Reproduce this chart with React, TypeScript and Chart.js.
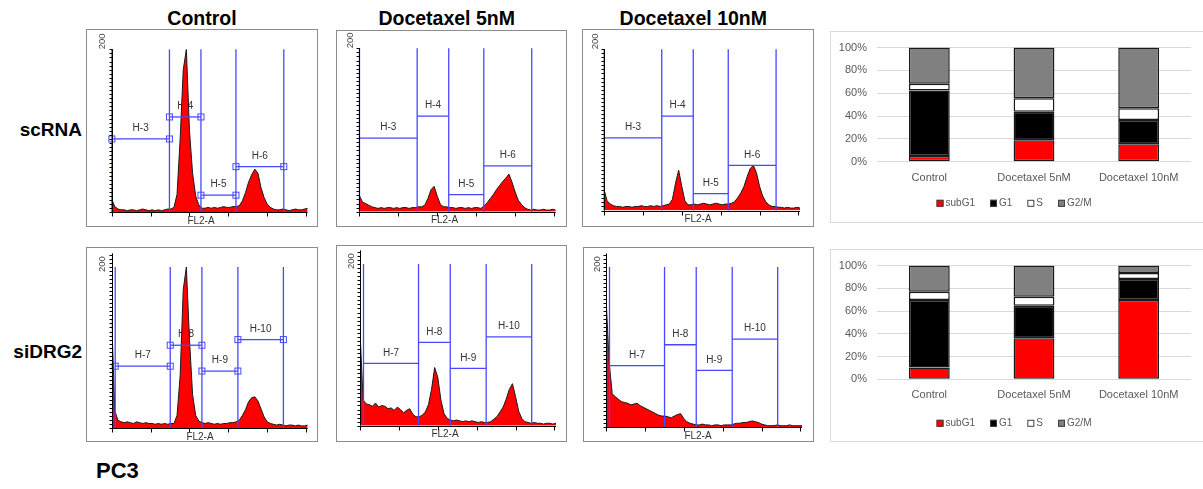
import React, { useEffect, useRef } from 'react';
import { Chart, registerables } from 'chart.js';

Chart.register(...registerables);

const FONT = "'Liberation Sans', Arial, Helvetica, sans-serif";

// ---------- Flow cytometry histograms (FL2-A channel, bin width 16, counts) ----------
const BIN_WIDTH = 16;
const FL2_MAX = 1008;
const FL2_TICKS = [0, 200, 400, 600, 800, 1000];

const SC_CONTROL = [16, 7, 4, 3, 3, 2, 3, 3, 2, 3, 4, 3, 2, 3, 2, 3, 2, 3, 4, 4,
  6, 22, 90, 175, 200, 100, 48, 20, 9, 5, 5, 6, 5, 6, 5, 6, 7, 6, 6, 7, 7,
  8, 14, 24, 37, 46, 53, 48, 30, 18, 10, 6, 4, 3,
  3, 4, 3, 2, 3, 4, 3, 3, 4, 5];
const SC_DOC5 = [20, 12, 10, 8, 6, 5, 4, 5, 4, 5, 5, 4, 5, 4, 5, 5, 4, 5, 5, 6,
  6, 8, 16, 27, 31, 19, 9, 6,
  6, 5, 5, 4, 5, 5, 4, 5, 4, 5, 5, 4,
  7, 11, 16, 21, 27, 32, 37, 41, 46, 36, 24, 14, 9, 5, 3, 2,
  3, 2, 2, 3, 2, 2, 3, 2];
const SC_DOC10 = [26, 12, 8, 6, 5, 5, 4, 5, 5, 4, 5, 5, 6, 5, 5, 6, 5, 6, 5, 6,
  7, 8, 14, 34, 50, 30, 12, 7,
  7, 8, 7, 8, 9, 8, 7, 8, 9, 8, 7, 8, 8,
  9, 11, 16, 22, 30, 42, 52, 56, 47, 30, 18, 11, 7, 5,
  5, 4, 4, 3, 4, 3, 3, 4, 3];
const SI_CONTROL = [135, 22, 10, 8, 7, 8, 7, 6, 8, 7, 6, 7, 6, 6, 5, 6, 5, 6, 5, 6,
  6, 16, 65, 172, 200, 110, 42, 16, 9,
  7, 6, 7, 6, 5, 6, 5, 6, 6, 7, 7,
  8, 10, 16, 23, 33, 38, 39, 34, 24, 14, 8, 6, 5,
  4, 5, 4, 3, 4, 4, 3, 4, 3, 3, 4];
const SI_DOC5 = [116, 32, 27, 26, 24, 28, 23, 25, 24, 21, 22, 19, 23, 20, 16, 19, 21, 14, 11, 11,
  13, 17, 26, 45, 72, 60, 32, 15, 9, 7,
  6, 7, 6, 5, 6, 5, 6, 5, 4, 5,
  4, 4, 5, 8, 11, 17, 23, 33, 45, 52,
  36, 18, 9, 5, 4, 3, 4, 3, 3, 2,
  3, 3, 2, 3];
const SI_DOC10 = [163, 82, 42, 38, 35, 32, 31, 30, 28, 29, 30, 27, 25, 23, 21, 19, 17, 15, 14, 14,
  13, 12, 14, 16, 17, 11, 7, 5, 4, 3,
  3, 4, 3, 3, 2, 3, 3, 2, 3, 3,
  3, 4, 5, 5, 6, 6, 7, 8, 7, 6, 4, 3,
  2, 2, 2, 3, 2, 2, 2, 3, 2, 2, 2, 2];

// Gates (FL2-A channel boundaries) and marker heights (counts)
const SC_GATES = [1, 297, 459, 639, 885];
const SC_MARKERS = [90, 117, 21, 56];
const SC_GATE_NAMES = ['H-3', 'H-4', 'H-5', 'H-6'];
const SI_GATES = [18, 301, 464, 649, 883];
const SI_MARKERS = [77, 103, 71, 110];
const SI_GATE_NAMES = ['H-7', 'H-8', 'H-9', 'H-10'];

// ---------- Cell cycle distribution (%) ----------
const CONDITIONS = ['Control', 'Docetaxel 5nM', 'Docetaxel 10nM'];
const ROW_NAMES = ['scRNA', 'siDRG2'];
const PHASES = ['subG1', 'G1', 'S', 'G2/M'];
const PHASE_COLORS = ['#ff0000', '#000000', '#ffffff', '#808080'];
const SC_SUBG1 = [4.9, 18.7, 15.2];
const SC_G1 = [57.5, 25.0, 21.3];
const SC_S = [6.0, 11.8, 10.3];
const SC_G2M = [31.6, 44.5, 53.2];
const SI_SUBG1 = [10.3, 36.2, 69.8];
const SI_G1 = [59.5, 28.5, 18.4];
const SI_S = [7.2, 8.0, 5.2];
const SI_G2M = [23.0, 27.3, 6.6];
const PCT_TICKS_STEP = 20;

const GATE_COLOR = 'rgb(72,72,255)';

type Panel = {
  box: [number, number, number, number];
  plot: [number, number, number, number];
  labelX: number;
};

const HIST_PANELS: Panel[][] = [
  [
    { box: [86, 29, 232, 198], plot: [111.7, 49.3, 307.7, 212.3], labelX: 201 },
    { box: [336, 30, 231, 197], plot: [359.3, 48.3, 555.7, 211.7], labelX: 444.5 },
    { box: [582, 29, 232, 198], plot: [604, 49.3, 800, 210.5], labelX: 698 },
  ],
  [
    { box: [86, 247, 232, 195], plot: [111.7, 253.3, 307.7, 428.3], labelX: 200 },
    { box: [336, 245, 231, 197], plot: [360, 250.3, 556, 425.7], labelX: 445 },
    { box: [583, 247, 231, 195], plot: [606, 253.4, 802, 427.3], labelX: 698 },
  ],
];

const HIST_DATA = [
  [SC_CONTROL, SC_DOC5, SC_DOC10],
  [SI_CONTROL, SI_DOC5, SI_DOC10],
];
const ROW_GATES = [SC_GATES, SI_GATES];
const ROW_MARKERS = [SC_MARKERS, SI_MARKERS];
const ROW_GATE_NAMES = [SC_GATE_NAMES, SI_GATE_NAMES];
const ROW_YMAX = [200, 217];
const ROW_LABEL_SHIFT = [0, 5];

const BAR_BOXES: [number, number, number, number][] = [
  [830, 31, 373, 192],
  [830, 249, 373, 193],
];
const BAR_PAD_TOP = [14.7, 14.3];
const BAR_XAXIS_H = [61.3, 62.7];
const BAR_LEGEND_Y = [172.3, 174.3];
const BAR_LEGEND_CX = 184;
const BAR_SERIES = [
  [SC_SUBG1, SC_G1, SC_S, SC_G2M],
  [SI_SUBG1, SI_G1, SI_S, SI_G2M],
];

function makeHistPlugin(row: number, col: number, panel: Panel) {
  const gates = ROW_GATES[row];
  const markers = ROW_MARKERS[row];
  const names = ROW_GATE_NAMES[row];
  const handles = col === 0;
  return {
    id: 'facs' + row + col,
    beforeDatasetsDraw(chart: any) {
      const { ctx } = chart;
      const xs = chart.scales.x;
      const ys = chart.scales.y;
      ctx.save();
      ctx.font = `10px ${FONT}`;
      ctx.fillStyle = '#333';
      ctx.textAlign = 'center';
      ctx.textBaseline = 'middle';
      for (let k = 0; k < 4; k++) {
        const x0 = xs.getPixelForValue(gates[k]);
        const x1 = xs.getPixelForValue(gates[k + 1]);
        const yy = ys.getPixelForValue(markers[k]);
        ctx.fillText(names[k], (x0 + x1) / 2, yy - 10.5);
      }
      ctx.restore();
    },
    afterDatasetsDraw(chart: any) {
      const { ctx, chartArea: ca } = chart;
      const xs = chart.scales.x;
      const ys = chart.scales.y;
      ctx.save();
      // gates
      ctx.strokeStyle = GATE_COLOR;
      ctx.lineWidth = 1.3;
      const yTop = ys.getPixelForValue(200);
      const yBase = ys.getPixelForValue(0);
      gates.forEach((g) => {
        const px = xs.getPixelForValue(g);
        ctx.beginPath();
        ctx.moveTo(px, yTop);
        ctx.lineTo(px, yBase);
        ctx.stroke();
      });
      for (let k = 0; k < 4; k++) {
        const x0 = xs.getPixelForValue(gates[k]);
        const x1 = xs.getPixelForValue(gates[k + 1]);
        const yy = ys.getPixelForValue(markers[k]);
        ctx.beginPath();
        ctx.moveTo(x0, yy);
        ctx.lineTo(x1, yy);
        ctx.stroke();
        if (handles) {
          ctx.lineWidth = 1;
          ctx.strokeRect(x0 - 3, yy - 3, 6, 6);
          ctx.strokeRect(x1 - 3, yy - 3, 6, 6);
          ctx.lineWidth = 1.3;
        }
      }
      // axes
      ctx.strokeStyle = '#000';
      ctx.lineWidth = 1;
      const ax = Math.round(ca.left) + 0.5;
      ctx.beginPath();
      ctx.moveTo(ax, ca.top);
      ctx.lineTo(ax, ca.bottom);
      const ymax = ys.max;
      for (let v = 0; v <= ymax; v += 5) {
        const py = Math.round(ys.getPixelForValue(v)) + 0.5;
        ctx.moveTo(ax - 3, py);
        ctx.lineTo(ax, py);
      }
      const by = Math.round(ca.bottom) + 0.5;
      ctx.moveTo(ca.left, by);
      ctx.lineTo(ca.right, by);
      FL2_TICKS.forEach((t) => {
        const px = Math.round(xs.getPixelForValue(t)) + 0.5;
        ctx.moveTo(px, by);
        ctx.lineTo(px, by + 4);
      });
      ctx.stroke();
      // y label "200"
      ctx.fillStyle = '#444';
      ctx.font = `9.5px ${FONT}`;
      ctx.save();
      ctx.translate(ca.left - 9, ys.getPixelForValue(200) + ROW_LABEL_SHIFT[row]);
      ctx.rotate(-Math.PI / 2);
      ctx.textAlign = 'left';
      ctx.textBaseline = 'middle';
      ctx.fillText('200', 0, 0);
      ctx.restore();
      // x title
      ctx.font = `10px ${FONT}`;
      ctx.textAlign = 'center';
      ctx.textBaseline = 'middle';
      ctx.fillStyle = '#333';
      ctx.fillText('FL2-A', panel.labelX - panel.box[0], ca.bottom + 8.5);
      ctx.restore();
    },
    afterDraw(chart: any) {
      const { ctx } = chart;
      ctx.save();
      ctx.strokeStyle = '#8c8c8c';
      ctx.lineWidth = 1;
      ctx.strokeRect(0.5, 0.5, chart.width - 1, chart.height - 1);
      ctx.restore();
    },
  };
}

function makeBarPlugin(row: number) {
  return {
    id: 'phaseLegend' + row,
    afterDraw(chart: any) {
      const { ctx } = chart;
      ctx.save();
      ctx.strokeStyle = '#d9d9d9';
      ctx.lineWidth = 1;
      ctx.strokeRect(0.5, 0.5, chart.width + 20, chart.height - 1);
      ctx.font = `10px ${FONT}`;
      ctx.textBaseline = 'middle';
      ctx.textAlign = 'left';
      const items = chart.data.datasets.map((d: any) => ({ label: d.label, color: d.backgroundColor }));
      const box = 7;
      const gap = 2;
      const spacing = 15;
      const widths = items.map((it: any) => box + gap + ctx.measureText(it.label).width);
      const total = widths.reduce((a: number, b: number) => a + b, 0) + spacing * (items.length - 1);
      let x = BAR_LEGEND_CX - total / 2;
      const cy = BAR_LEGEND_Y[row];
      items.forEach((it: any, i: number) => {
        ctx.fillStyle = it.color;
        ctx.fillRect(x, cy - 3.5, box, box);
        ctx.strokeStyle = '#404040';
        ctx.strokeRect(x + 0.5, cy - 3, box - 1, box - 1);
        ctx.fillStyle = '#595959';
        ctx.fillText(it.label, x + box + gap, cy);
        x += widths[i] + spacing;
      });
      ctx.restore();
    },
  };
}

export default function App() {
  const histRefs = useRef<(HTMLCanvasElement | null)[]>([]);
  const barRefs = useRef<(HTMLCanvasElement | null)[]>([]);

  useEffect(() => {
    const charts: Chart[] = [];
    HIST_PANELS.forEach((rowPanels, row) => {
      rowPanels.forEach((panel, col) => {
        const canvas = histRefs.current[row * 3 + col];
        if (!canvas) return;
        const [bx, by, bw, bh] = panel.box;
        const [pl, pt, pr, pb] = panel.plot;
        const counts = HIST_DATA[row][col];
        const points = counts.map((c, i) => ({ x: i * BIN_WIDTH, y: c }));
        charts.push(
          new Chart(canvas, {
            type: 'line',
            data: {
              datasets: [
                {
                  data: points,
                  fill: 'origin',
                  backgroundColor: '#ff0000',
                  borderColor: '#1a1a1a',
                  borderWidth: 1,
                  pointRadius: 0,
                  tension: 0,
                },
              ],
            },
            options: {
              animation: false,
              responsive: false,
              devicePixelRatio: 1,
              events: [],
              layout: { padding: { left: pl - bx, top: pt - by, right: bx + bw - pr, bottom: by + bh - pb } },
              scales: {
                x: { type: 'linear', min: 0, max: FL2_MAX, display: false },
                y: { min: 0, max: ROW_YMAX[row], display: false },
              },
              plugins: { legend: { display: false }, tooltip: { enabled: false } },
            },
            plugins: [makeHistPlugin(row, col, panel)],
          } as any)
        );
      });
    });

    BAR_BOXES.forEach((bb, row) => {
      const canvas = barRefs.current[row];
      if (!canvas) return;
      const series = BAR_SERIES[row];
      charts.push(
        new Chart(canvas, {
          type: 'bar',
          data: {
            labels: CONDITIONS,
            datasets: PHASES.map((p, i) => ({
              label: p,
              data: series[i],
              backgroundColor: PHASE_COLORS[i],
              borderColor: '#1a1a1a',
              borderWidth: 1.5,
              borderSkipped: false,
              barPercentage: 0.39,
              categoryPercentage: 1,
            })),
          },
          options: {
            animation: false,
            responsive: false,
            devicePixelRatio: 1,
            events: [],
            layout: { padding: { left: 0, top: BAR_PAD_TOP[row], right: 12, bottom: 0 } },
            scales: {
              x: {
                stacked: true,
                grid: { display: false, drawTicks: false },
                border: { display: false },
                ticks: { color: '#595959', font: { size: 11, family: FONT }, padding: 9.5, maxRotation: 0 },
                afterFit: (s: any) => {
                  s.height = BAR_XAXIS_H[row];
                },
              },
              y: {
                stacked: true,
                min: 0,
                max: 100,
                grid: { color: '#d9d9d9', drawTicks: false },
                border: { display: false },
                ticks: {
                  stepSize: PCT_TICKS_STEP,
                  color: '#595959',
                  font: { size: 11, family: FONT },
                  padding: 10,
                  callback: (v: any) => v + '%',
                },
                afterFit: (s: any) => {
                  s.width = 47;
                },
              },
            },
            plugins: { legend: { display: false }, tooltip: { enabled: false } },
          },
          plugins: [makeBarPlugin(row)],
        } as any)
      );
    });

    return () => charts.forEach((c) => c.destroy());
  }, []);

  const titleCenters = [202, 446.7, 693.3];
  const rowCenters = [130, 351.7];

  return (
    <div
      style={{
        position: 'absolute',
        left: 0,
        top: 0,
        width: 1203,
        height: 489,
        overflow: 'hidden',
        background: '#fff',
        fontFamily: FONT,
      }}
    >
      {CONDITIONS.map((c, i) => (
        <div
          key={c}
          style={{
            position: 'absolute',
            left: titleCenters[i] - 100,
            width: 200,
            top: 7,
            lineHeight: '22px',
            textAlign: 'center',
            fontWeight: 'bold',
            fontSize: 19.5,
            color: '#000',
          }}
        >
          {c}
        </div>
      ))}
      {ROW_NAMES.map((r, i) => (
        <div
          key={r}
          style={{
            position: 'absolute',
            left: 0,
            width: 82,
            top: rowCenters[i] - 11,
            lineHeight: '22px',
            textAlign: 'right',
            fontWeight: 'bold',
            fontSize: 19,
            color: '#000',
          }}
        >
          {r}
        </div>
      ))}
      <div
        style={{
          position: 'absolute',
          left: 96,
          top: 458,
          lineHeight: '25px',
          fontWeight: 'bold',
          fontSize: 22,
          color: '#000',
        }}
      >
        PC3
      </div>
      {HIST_PANELS.flat().map((p, i) => (
        <canvas
          key={'h' + i}
          ref={(el) => {
            histRefs.current[i] = el;
          }}
          width={p.box[2]}
          height={p.box[3]}
          style={{ position: 'absolute', left: p.box[0], top: p.box[1], width: p.box[2], height: p.box[3] }}
        />
      ))}
      {BAR_BOXES.map((b, i) => (
        <canvas
          key={'b' + i}
          ref={(el) => {
            barRefs.current[i] = el;
          }}
          width={b[2]}
          height={b[3]}
          style={{ position: 'absolute', left: b[0], top: b[1], width: b[2], height: b[3] }}
        />
      ))}
    </div>
  );
}
